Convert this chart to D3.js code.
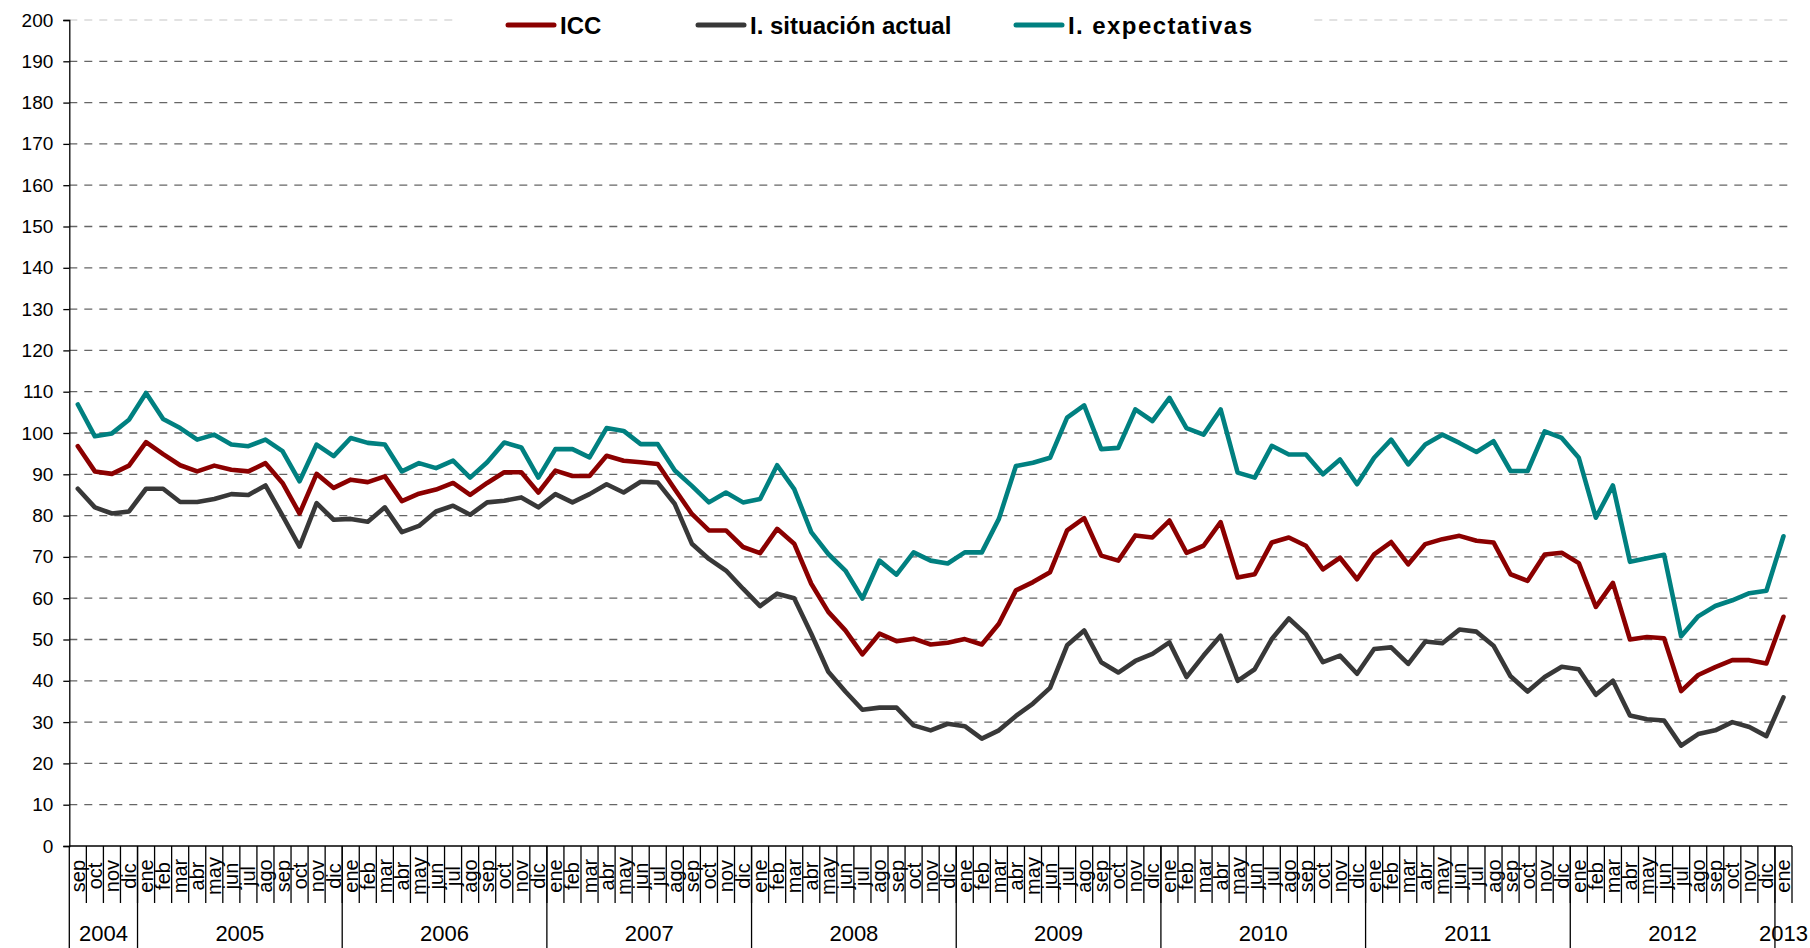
<!DOCTYPE html>
<meta charset="utf-8">
<style>
body { margin: 0; background: #fff; }
text { font-family: "Liberation Sans", Arial, sans-serif; fill: #000; }
.grid line { stroke: #666; stroke-width: 1.3; stroke-dasharray: 8,7; }
.series { fill: none; stroke-width: 4.6; stroke-linejoin: round; stroke-linecap: round; }
.legend text { font-weight: bold; font-size: 24px; }
</style>
<script src="https://d3js.org/d3.v7.min.js"></script>
<svg width="1810" height="948"></svg>
<script>

var svg = d3.select("svg");

// data: monthly, sep 2004 .. ene 2013
var monthNames = ["ene","feb","mar","abr","may","jun","jul","ago","sep","oct","nov","dic"];
var years = ["2004","2005","2006","2007","2008","2009","2010","2011","2012","2013"];
var yTicks = d3.range(0, 201, 10);

var icc = [96.8, 90.7, 90.1, 92.1, 97.8, 94.9, 92.2, 90.7, 92.1, 91.1, 90.7, 92.7, 87.9, 80.5, 90.1, 86.7, 88.7, 88.1, 89.5, 83.5, 85.3, 86.3,
  87.9, 85.0, 87.9, 90.5, 90.5, 85.6, 90.9, 89.6, 89.6, 94.5, 93.3, 92.9, 92.5, 86.4, 80.4, 76.4, 76.4, 72.4, 70.9, 76.8, 73.2, 63.5,
  56.7, 52.2, 46.4, 51.4, 49.6, 50.2, 48.8, 49.2, 50.1, 48.8, 53.8, 61.9, 63.9, 66.3, 76.4, 79.4, 70.3, 69.1, 75.2, 74.7,
  78.8, 71.0, 72.7, 78.4, 65.0, 65.8, 73.5, 74.7, 72.7, 67.0, 69.8, 64.6, 70.6, 73.6, 68.2, 73.1, 74.3, 75.1, 73.9, 73.5, 65.8, 64.2, 70.6, 71.0,
  68.5, 57.9, 63.7, 50.0, 50.6, 50.3, 37.5, 41.4, 43.3, 45.0, 45.0, 44.2, 55.5];

var actual = [86.5, 82.0, 80.5, 81.0, 86.5, 86.5, 83.3, 83.3, 84.0, 85.2, 85.0, 87.3, 80.0, 72.5, 83.0, 79.0, 79.2, 78.5, 82.0, 76.0, 77.5, 81.0,
  82.4, 80.2, 83.2, 83.6, 84.4, 82.0, 85.2, 83.2, 85.2, 87.6, 85.6, 88.2, 88.0, 82.8, 73.2, 69.5, 66.7, 62.3, 58.1, 61.1, 60.0, 51.4,
  42.2, 37.4, 33.0, 33.5, 33.5, 29.2, 28.0, 29.6, 29.0, 26.0, 28.0, 31.5, 34.5, 38.3, 48.6, 52.2, 44.5, 42.0, 44.8, 46.5,
  49.3, 40.9, 46.1, 50.9, 40.0, 42.8, 50.1, 55.1, 51.3, 44.5, 46.1, 41.7, 47.7, 48.1, 44.1, 49.5, 49.1, 52.4, 51.9, 48.5, 41.1, 37.4, 40.9, 43.4,
  42.8, 36.6, 40.0, 31.6, 30.7, 30.4, 24.3, 27.1, 28.0, 30.0, 28.8, 26.6, 36.0];

var expect = [106.9, 99.2, 99.9, 103.2, 109.7, 103.4, 101.2, 98.4, 99.6, 97.2, 96.8, 98.4, 95.6, 88.3, 97.2, 94.4, 98.8, 97.6, 97.2, 90.7, 92.7, 91.5,
  93.3, 89.2, 92.9, 97.7, 96.5, 89.2, 96.1, 96.1, 94.1, 101.2, 100.5, 97.3, 97.3, 90.9, 87.2, 83.2, 85.6, 83.2, 84.0, 92.2, 86.4, 76.0,
  70.7, 66.7, 59.9, 69.1, 65.7, 71.1, 69.1, 68.4, 71.1, 71.1, 79.2, 92.0, 92.8, 94.0, 103.7, 106.7, 96.1, 96.4, 105.7, 102.9,
  108.5, 101.2, 99.6, 105.7, 90.4, 89.2, 96.9, 94.8, 94.8, 90.0, 93.6, 87.6, 94.0, 98.4, 92.4, 97.2, 99.6, 97.6, 95.4, 98.0, 90.8, 90.8, 100.4, 98.8,
  94.0, 79.5, 87.3, 68.8, 69.7, 70.5, 50.8, 55.6, 58.1, 59.5, 61.2, 61.8, 75.0];

var seriesNames = ["ICC", "I. situación actual", "I. expectativas"];
var seriesColors = ["#8b0000", "#383838", "#008080"];

// build month list
var months = [];
for (var i = 0; i < icc.length; i++) {
    var m = (8 + i) % 12;
    var yr = 2004 + Math.floor((8 + i) / 12);
    months.push({ key: i, label: monthNames[m], year: String(yr) });
}

var plotLeft = 69.3, plotRight = 1792, plotTop = 20, plotBottom = 846;

var x = d3.scaleBand()
    .domain(months.map(function(d) { return d.key; }))
    .range([plotLeft, plotRight]);

var y = d3.scaleLinear()
    .domain([0, 200])
    .range([plotBottom, plotTop]);

// gridlines
svg.append("g")
    .attr("class", "grid")
    .selectAll("line")
    .data(yTicks.filter(function(d) { return d > 0; }))
    .enter().append("line")
    .attr("x1", plotLeft)
    .attr("x2", plotRight)
    .attr("y1", function(d) { return y(d); })
    .attr("y2", function(d) { return y(d); })
    .style("stroke", function(d) { return d == 200 ? "#d9d9d9" : null; });

// y axis
var yAxis = svg.append("g")
    .attr("transform", "translate(" + plotLeft + ",0)")
    .call(d3.axisLeft(y).tickValues(yTicks).tickSize(6).tickPadding(10));
yAxis.selectAll("text").style("font-size", "19px").attr("font-family", null);
yAxis.selectAll("line, path").attr("stroke", "#000").attr("stroke-width", 1.3);

// x axis: month ticks on boundaries
var xAxis = svg.append("g").attr("class", "xaxis");
xAxis.append("line")
    .attr("x1", plotLeft).attr("x2", plotRight)
    .attr("y1", plotBottom).attr("y2", plotBottom)
    .attr("stroke", "#000").attr("stroke-width", 1.3);

xAxis.selectAll(".mtick")
    .data(months)
    .enter().append("line")
    .attr("class", "mtick")
    .attr("x1", function(d) { return x(d.key) + x.bandwidth(); })
    .attr("x2", function(d) { return x(d.key) + x.bandwidth(); })
    .attr("y1", plotBottom)
    .attr("y2", 903)
    .attr("stroke", "#000")
    .attr("stroke-width", 1.3);

xAxis.selectAll(".mlabel")
    .data(months)
    .enter().append("text")
    .attr("class", "mlabel")
    .attr("transform", function(d) {
        return "translate(" + (x(d.key) + x.bandwidth() / 2 + 7) + ",876) rotate(-90)";
    })
    .attr("text-anchor", "middle")
    .style("font-size", "20px")
    .text(function(d) { return d.label; });

// year groups
var yearGroups = years.map(function(yr) {
    var ms = months.filter(function(d) { return d.year == yr; });
    return { year: yr, x0: x(ms[0].key), x1: x(ms[ms.length - 1].key) + x.bandwidth() };
});

xAxis.selectAll(".ysep")
    .data(yearGroups)
    .enter().append("line")
    .attr("x1", function(d) { return d.x0; })
    .attr("x2", function(d) { return d.x0; })
    .attr("y1", plotBottom)
    .attr("y2", 948)
    .attr("stroke", "#000")
    .attr("stroke-width", 1.3);

xAxis.selectAll(".ylabel")
    .data(yearGroups)
    .enter().append("text")
    .attr("x", function(d) { return (d.x0 + d.x1) / 2; })
    .attr("y", 941)
    .attr("text-anchor", "middle")
    .style("font-size", "22px")
    .text(function(d) { return d.year; });

// lines
var line = d3.line()
    .x(function(d, i) { return x(i) + x.bandwidth() / 2; })
    .y(function(d) { return y(d); });

var allSeries = [icc, actual, expect];
svg.selectAll(".series")
    .data([2, 0, 1])
    .enter().append("path")
    .attr("class", "series")
    .attr("stroke", function(k) { return seriesColors[k]; })
    .attr("d", function(k) { return line(allSeries[k]); });

// legend
var legend = svg.append("g").attr("class", "legend");
legend.append("rect")
    .attr("x", 456).attr("y", 2)
    .attr("width", 857).attr("height", 40)
    .attr("fill", "#fff");

var legX = [508, 698, 1016];
var items = legend.selectAll(".item")
    .data(seriesNames)
    .enter().append("g")
    .attr("transform", function(d, i) { return "translate(" + legX[i] + ",25)"; });

items.append("line")
    .attr("x1", 0).attr("x2", 46)
    .attr("stroke-width", 5)
    .attr("stroke-linecap", "round")
    .attr("stroke", function(d, i) { return seriesColors[i]; });

items.append("text")
    .attr("x", 52)
    .attr("dy", "0.36em")
    .attr("textLength", function(d, i) { return i == 2 ? 184 : null; })
    .attr("lengthAdjust", "spacing")
    .text(function(d) { return d; });

</script>
